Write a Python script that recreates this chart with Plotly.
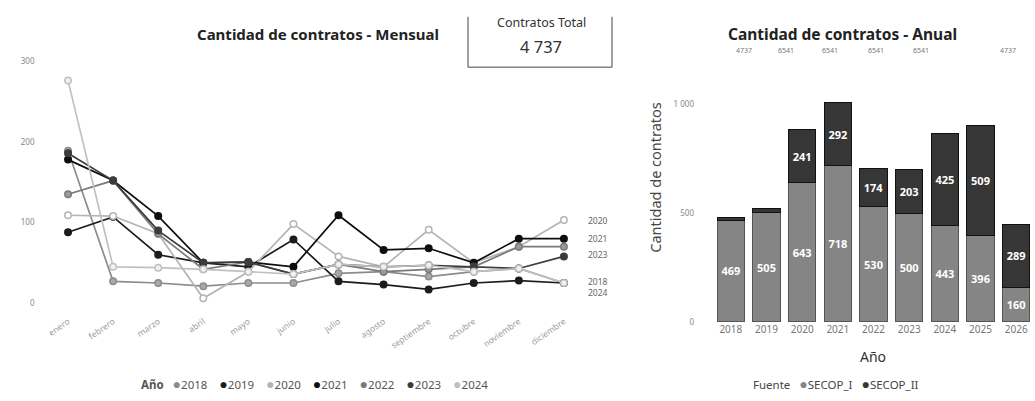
import plotly.graph_objects as go

# ---------------- data ----------------
meses = ["enero", "febrero", "marzo", "abril", "mayo", "junio", "julio",
         "agosto", "septiembre", "octubre", "noviembre", "diciembre"]

anios_linea = ["2018", "2019", "2020", "2021", "2022", "2023", "2024"]
m2018 = [189, 27, 25, 21, 25, 25, 37, 39, 33, 39, 43, 25]
m2019 = [88, 107, 60, 50, 45, 79, 27, 23, 17, 25, 28, 25]
m2020 = [109, 108, 86, 6, 39, 98, 58, 45, 91, 50, 70, 103]
m2021 = [178, 152, 108, 50, 51, 45, 109, 66, 68, 50, 80, 80]
m2022 = [135, 152, 86, 42, 51, 36, 48, 39, 42, 45, 70, 70]
m2023 = [186, 152, 90, 50, 51, 36, 48, 45, 47, 45, 43, 58]
m2024 = [276, 45, 44, 42, 39, 36, 48, 45, 47, 39, 43, 25]
series_mes = [m2018, m2019, m2020, m2021, m2022, m2023, m2024]

anios_barra = ["2018", "2019", "2020", "2021", "2022", "2023", "2024", "2025", "2026"]
secop_i = [469, 505, 643, 718, 530, 500, 443, 396, 160]
secop_ii = [12, 18, 241, 292, 174, 203, 425, 509, 289]

total_contratos = "4 737"
top_numeros = ["4737", "6541", "6541", "6541", "6541", "4737"]
y_ticks_linea = [0, 100, 200, 300]
y_ticks_barra = [0, 500, 1000]
y_ticktext_barra = ["0", "500", "1 000"]

# ---------------- styles ----------------
W, H = 1035, 401
def px(x):
    return x / W
def py(y):
    return (H - y) / H

line_cols = ["#8c8c8c", "#1c1c1c", "#b4b4b4", "#0e0e0e", "#7a7a7a", "#3c3c3c", "#c0c0c0"]
fill_cols = ["#a8a8a8", "#1c1c1c", "#ffffff", "#0e0e0e", "#9a9a9a", "#3c3c3c", "#f0f0f0"]
FONT = "Noto Sans"
NB = "\u00a0"

fig = go.Figure()

for name, vals, lc, fc in zip(anios_linea, series_mes, line_cols, fill_cols):
    fig.add_trace(go.Scatter(
        x=meses, y=vals, name=name, mode="lines+markers",
        line=dict(color=lc, width=1.7),
        marker=dict(size=6.5, color=fc, line=dict(color=lc, width=1.5)),
        xaxis="x", yaxis="y", showlegend=False))

fig.add_trace(go.Bar(
    x=anios_barra, y=secop_i, name="SECOP_I", text=secop_i,
    marker=dict(color="#858585", line=dict(color="#555555", width=1)),
    textposition="inside", insidetextanchor="middle",
    textfont=dict(color="white", size=11, family=FONT, weight="bold"),
    xaxis="x2", yaxis="y2", showlegend=False))
fig.add_trace(go.Bar(
    x=anios_barra, y=secop_ii, name="SECOP_II", text=secop_ii,
    marker=dict(color="#363636", line=dict(color="#111111", width=1)),
    textposition="inside", insidetextanchor="middle",
    textfont=dict(color="white", size=11, family=FONT, weight="bold"),
    xaxis="x2", yaxis="y2", showlegend=False))

ann = []
# titles
ann.append(dict(x=px(318), y=py(34), text="<b>Cantidad de contratos - Mensual</b>",
                showarrow=False, font=dict(size=15, color="#222", family=FONT)))
ann.append(dict(x=px(842), y=py(34), text="<b>Cantidad de contratos - Anual</b>",
                showarrow=False, font=dict(size=15.5, color="#222", family=FONT)))
# card
ann.append(dict(x=px(541), y=py(23), text="Contratos Total", showarrow=False,
                font=dict(size=12.5, color="#333", family=FONT)))
ann.append(dict(x=px(541), y=py(47), text=total_contratos, showarrow=False,
                font=dict(size=16.5, color="#333", family=FONT)))
# top numbers
for xp, t in zip([744, 786, 830, 876, 921, 1008], top_numeros):
    ann.append(dict(x=px(xp), y=py(51), text=t, showarrow=False,
                    font=dict(size=7, color="#777", family=FONT)))
# end labels for line chart
end_shift = {"2020": 0, "2021": 0, "2023": 2, "2018": 1, "2024": -10}
for name, vals in zip(anios_linea, series_mes):
    if name in end_shift:
        ann.append(dict(x=meses[-1], y=vals[-1], xref="x", yref="y", text=name,
                        showarrow=False, xshift=34, yshift=end_shift[name],
                        font=dict(size=8.5, color="#666", family=FONT)))
# legends as text
dot = "<span style='color:{c};font-size:14px'>●</span>"
leg1 = "<b>Año</b>" + NB * 3 + (NB * 4).join(
    dot.format(c=c) + n for n, c in zip(anios_linea, line_cols))
ann.append(dict(x=px(314), y=py(388), text=leg1, showarrow=False,
                font=dict(size=11.5, color="#555", family=FONT)))
leg2 = ("Fuente" + NB * 3 + dot.format(c="#858585") + "SECOP_I" + NB * 3 +
        dot.format(c="#363636") + "SECOP_II")
ann.append(dict(x=px(836), y=py(388), text=leg2, showarrow=False,
                font=dict(size=11.5, color="#444", family=FONT)))
# bar axis titles
ann.append(dict(x=px(655), y=py(180), text="Cantidad de contratos", textangle=-90,
                showarrow=False, font=dict(size=14.5, color="#444", family=FONT)))
ann.append(dict(x=px(873), y=py(361), text="Año", showarrow=False,
                font=dict(size=14, color="#333", family=FONT)))
for a in ann:
    a.setdefault("xref", "paper")
    a.setdefault("yref", "paper")
    a["xanchor"] = "center"
    a["yanchor"] = "middle"

shapes = [
    dict(type="line", xref="paper", yref="paper", x0=px(468), x1=px(468), y0=py(17), y1=py(68),
         line=dict(color="#444", width=1)),
    dict(type="line", xref="paper", yref="paper", x0=px(612), x1=px(612), y0=py(17), y1=py(68),
         line=dict(color="#444", width=1)),
    dict(type="line", xref="paper", yref="paper", x0=px(468), x1=px(612), y0=py(68), y1=py(68),
         line=dict(color="#444", width=1)),
]

fig.update_layout(
    width=W, height=H, margin=dict(l=0, r=0, t=0, b=0),
    paper_bgcolor="white", plot_bgcolor="white",
    font=dict(family=FONT, color="#555"),
    barmode="stack", bargap=0.24,
    uniformtext=dict(minsize=9, mode="hide"),
    annotations=ann, shapes=shapes,
    xaxis=dict(domain=[px(45.5), px(618)], range=[-0.5, 12.2], type="category",
               showgrid=False, zeroline=False, showline=False, tickangle=-35,
               tickfont=dict(size=8.5, color="#999"), ticks=""),
    yaxis=dict(domain=[py(318), py(55)], range=[-13.5, 308.6], tickvals=y_ticks_linea,
               showgrid=False, zeroline=False, showline=False,
               tickfont=dict(size=8, color="#888"), ticklabelstandoff=10),
    xaxis2=dict(domain=[px(713), px(1034)], range=[-0.5, 8.5], type="category",
                anchor="y2", showgrid=False, zeroline=False, showline=False,
                tickfont=dict(size=10, color="#777"), ticks=""),
    yaxis2=dict(domain=[py(326), py(62)], range=[0, 1200], anchor="x2",
                tickvals=y_ticks_barra, ticktext=y_ticktext_barra,
                showgrid=False, zeroline=False, showline=False,
                tickfont=dict(size=8, color="#888"), ticklabelstandoff=18),
)

fig.write_html("out.html", config={"displayModeBar": False},
               post_script="document.body.style.margin='0';document.body.style.overflow='hidden';")
